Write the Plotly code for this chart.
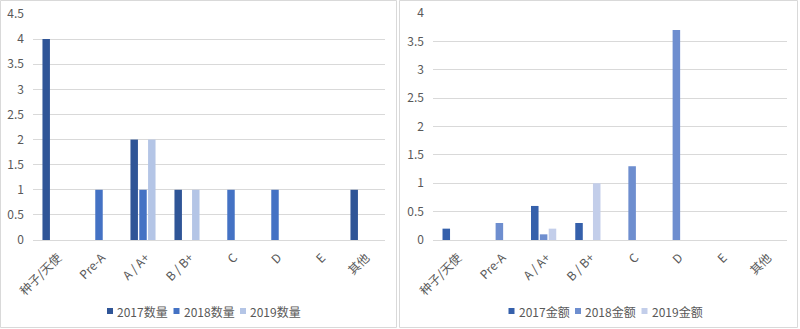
import plotly.graph_objects as go

categories = ["种子/天使", "Pre-A", "A / A+", "B / B+", "C", "D", "E", "其他"]

count_2017 = [4, 0, 2, 1, 0, 0, 0, 1]
count_2018 = [0, 1, 1, 0, 1, 1, 0, 0]
count_2019 = [0, 0, 2, 1, 0, 0, 0, 0]
count_names = ["2017数量", "2018数量", "2019数量"]

amount_2017 = [0.2, 0, 0.6, 0.3, 0, 0, 0, 0]
amount_2018 = [0, 0.3, 0.1, 0, 1.3, 3.7, 0, 0]
amount_2019 = [0, 0, 0.2, 1.0, 0, 0, 0, 0]
amount_names = ["2017金额", "2018金额", "2019金额"]

left_colors = ["#2F5597", "#4472C4", "#B4C5E6"]
right_colors = ["#3560AB", "#6E8ECF", "#C3CEEA"]

W, H = 800, 329
def px(x):
    return x / W
def py(y):
    return 1 - y / H

FONT = "Noto Sans CJK SC, Microsoft YaHei, sans-serif"
TXT = "#595959"
fig = go.Figure()

for vals, name, col in zip([count_2017, count_2018, count_2019], count_names, left_colors):
    fig.add_trace(go.Bar(x=categories, y=vals, name=name, marker=dict(color=col, line=dict(width=0)),
                         xaxis="x", yaxis="y", showlegend=False))
for vals, name, col in zip([amount_2017, amount_2018, amount_2019], amount_names, right_colors):
    fig.add_trace(go.Bar(x=categories, y=vals, name=name, marker=dict(color=col, line=dict(width=0)),
                         xaxis="x2", yaxis="y2", showlegend=False))

grid = "#D9D9D9"
tickfont = dict(family=FONT, size=12, color=TXT)

common_x = dict(type="category", range=[-0.5, 7.5], tickangle=-45, showline=True, linecolor=grid,
                linewidth=1, showgrid=False, ticks="", tickfont=tickfont, fixedrange=True,
                automargin=False, ticklabelstandoff=5, ticklabelshift=3)
common_y = dict(showgrid=True, gridcolor=grid, gridwidth=1, zeroline=False, showline=False,
                dtick=0.5, ticks="", tickfont=tickfont, ticklabelstandoff=8, automargin=False)

# manual legends (squares + text) built from the series names/colours
shapes = [
    dict(type="rect", xref="paper", yref="paper", x0=px(0.5), x1=px(396.5), y0=py(327.5), y1=py(0.5),
         line=dict(color=grid, width=1)),
    dict(type="rect", xref="paper", yref="paper", x0=px(399.5), x1=px(797.5), y0=py(327.5), y1=py(0.5),
         line=dict(color=grid, width=1)),
]
annotations = []
legend_y = 311
for starts, names, cols in [([107, 173.5, 240], count_names, left_colors),
                            ([508.5, 575, 641.5], amount_names, right_colors)]:
    for sx, name, col in zip(starts, names, cols):
        shapes.append(dict(type="rect", xref="paper", yref="paper", x0=px(sx), x1=px(sx + 6),
                           y0=py(legend_y + 3), y1=py(legend_y - 3), fillcolor=col, line=dict(width=0)))
        annotations.append(dict(xref="paper", yref="paper", x=px(sx + 8), y=py(legend_y), text=name,
                                showarrow=False, xanchor="left", yanchor="middle",
                                font=dict(family=FONT, size=12, color=TXT)))

fig.update_layout(
    template="none",
    width=W, height=H,
    margin=dict(l=0, r=0, t=0, b=0, autoexpand=False),
    paper_bgcolor="white", plot_bgcolor="white",
    barmode="group", bargap=0.4, bargroupgap=0.15,
    font=dict(family=FONT, color=TXT),
    xaxis=dict(domain=[px(33), px(385)], anchor="y", **common_x),
    yaxis=dict(domain=[py(240), py(14)], anchor="x", range=[0, 4.5], **common_y),
    xaxis2=dict(domain=[px(433), px(787)], anchor="y2", **common_x),
    yaxis2=dict(domain=[py(240), py(13)], anchor="x2", range=[0, 4], **common_y),
    showlegend=False,
    shapes=shapes,
    annotations=annotations,
)

fig.write_html("out.html")
